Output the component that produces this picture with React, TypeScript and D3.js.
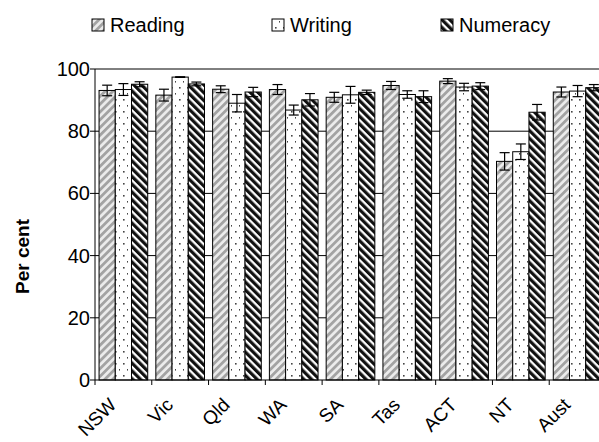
import React from "react";
import * as d3 from "d3";

const categories = ["NSW", "Vic", "Qld", "WA", "SA", "Tas", "ACT", "NT", "Aust"];
const seriesNames = ["Reading", "Writing", "Numeracy"];
const readingValues = [93.1, 91.6, 93.5, 93.4, 90.9, 94.7, 96.1, 70.3, 92.6];
const readingErrors = [1.7, 1.9, 1.1, 1.6, 1.6, 1.3, 0.8, 2.8, 1.6];
const writingValues = [93.4, 97.4, 89.0, 86.8, 91.7, 91.8, 94.2, 73.4, 92.9];
const writingErrors = [1.9, 0.1, 2.8, 1.6, 2.7, 1.2, 1.2, 2.5, 1.8];
const numeracyValues = [95.1, 95.2, 92.6, 90.1, 92.5, 91.1, 94.5, 86.1, 94.0];
const numeracyErrors = [0.8, 0.6, 1.5, 2.0, 0.7, 1.9, 1.1, 2.5, 1.0];
const yTicks = [0, 20, 40, 60, 80, 100];

const W = 599;
const H = 442;
const M = { left: 95, top: 69, bottom: 62, right: -7 };
const FONT = "'Liberation Sans', Arial, sans-serif";

export default function App() {
  const values = [readingValues, writingValues, numeracyValues];
  const errors = [readingErrors, writingErrors, numeracyErrors];
  const fills = ["url(#patRead)", "url(#patWrite)", "url(#patNum)"];

  const x = d3.scaleBand<string>().domain(categories).range([M.left, W - M.right]).paddingInner(0).paddingOuter(0);
  const inner = d3.scaleBand<string>().domain(seriesNames).range([0, x.bandwidth()]).paddingInner(0).paddingOuter(0.25);
  const y = d3.scaleLinear().domain([0, 100]).range([H - M.bottom, M.top]);
  const bw = inner.bandwidth();
  const capW = 10;

  const legendX = [92, 272, 441];

  return (
    <svg width={W} height={H} style={{ position: "absolute", left: 0, top: 0, background: "#fff" }} fontFamily={FONT}>
      <defs>
        <pattern id="patRead" patternUnits="userSpaceOnUse" width={5.5} height={5.5} patternTransform="rotate(45)">
          <rect width={5.5} height={5.5} fill="#ececec" />
          <rect width={2.8} height={5.5} fill="#a3a3a3" />
        </pattern>
        <pattern id="patWrite" patternUnits="userSpaceOnUse" width={8} height={12}>
          <rect width={8} height={12} fill="#fff" />
          <rect x={3} y={3} width={1.6} height={1.6} fill="#444" />
          <rect x={7} y={9} width={1.6} height={1.6} fill="#444" />
        </pattern>
        <pattern id="patNum" patternUnits="userSpaceOnUse" width={5.5} height={5.5} patternTransform="rotate(-45)">
          <rect width={5.5} height={5.5} fill="#fff" />
          <rect width={3.2} height={5.5} fill="#111" />
        </pattern>
      </defs>

      {/* legend */}
      {seriesNames.map((s, i) => (
        <g key={s}>
          <rect x={legendX[i]} y={19} width={12} height={12} fill={fills[i]} stroke="#000" strokeWidth={1} />
          <text x={legendX[i] + 18} y={32} fontSize={20} fill="#000">{s}</text>
        </g>
      ))}

      {/* gridlines */}
      {yTicks.filter((t) => t > 0).map((t) => (
        <line key={t} x1={M.left} x2={W} y1={y(t)} y2={y(t)} stroke="#000" strokeWidth={1} />
      ))}

      {/* bars */}
      {categories.map((c, ci) => (
        <g key={c}>
          {seriesNames.map((s, si) => {
            const v = values[si][ci];
            const bx = (x(c) as number) + (inner(s) as number);
            return (
              <rect key={s} x={bx} y={y(v)} width={bw} height={y(0) - y(v)} fill={fills[si]} stroke="#000" strokeWidth={1} />
            );
          })}
          {seriesNames.map((s, si) => {
            const v = values[si][ci];
            const e = errors[si][ci];
            const cx = (x(c) as number) + (inner(s) as number) + bw / 2;
            return (
              <g key={s} stroke="#000" strokeWidth={1.2}>
                <line x1={cx} x2={cx} y1={y(v + e)} y2={y(v - e)} />
                <line x1={cx - capW / 2} x2={cx + capW / 2} y1={y(v + e)} y2={y(v + e)} />
                <line x1={cx - capW / 2} x2={cx + capW / 2} y1={y(v - e)} y2={y(v - e)} />
              </g>
            );
          })}
        </g>
      ))}

      {/* y axis */}
      <line x1={M.left} x2={M.left} y1={y(100)} y2={y(0)} stroke="#000" strokeWidth={1} />
      {yTicks.map((t) => (
        <g key={t}>
          <line x1={M.left - 5} x2={M.left} y1={y(t)} y2={y(t)} stroke="#000" />
          <text x={M.left - 5} y={y(t) + 7} fontSize={20} textAnchor="end" fill="#000">{t}</text>
        </g>
      ))}
      <text transform={`translate(29,${(y(0) + y(100)) / 2 + 32}) rotate(-90)`} fontSize={19} fontWeight="bold" textAnchor="middle" fill="#000">Per cent</text>

      {/* x axis */}
      <line x1={M.left} x2={W} y1={y(0)} y2={y(0)} stroke="#000" strokeWidth={1} />
      {categories.map((c) => (
        <line key={c} x1={x(c) as number} x2={x(c) as number} y1={y(0)} y2={y(0) + 5} stroke="#000" />
      ))}
      {categories.map((c) => {
        const cx = (x(c) as number) + x.bandwidth() / 2;
        return (
          <text key={c} transform={`translate(${cx - 6},${y(0) + 26}) rotate(-45)`} fontSize={19} textAnchor="end" fill="#000">{c}</text>
        );
      })}
    </svg>
  );
}
